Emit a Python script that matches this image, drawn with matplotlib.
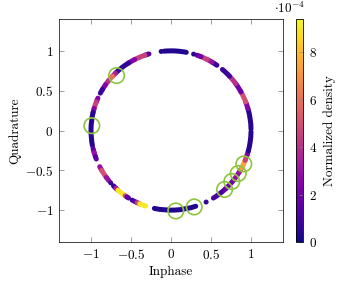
# -*- coding: utf-8 -*-
"""IQ constellation on the unit circle, coloured by normalized density."""

import matplotlib
matplotlib.use("Agg")
import matplotlib.pyplot as plt
from matplotlib.patches import Arc
from matplotlib.colors import Normalize
from matplotlib.cm import ScalarMappable

plt.rcParams['font.family'] = 'serif'
plt.rcParams['font.serif'] = ['cmr10', 'DejaVu Serif']
plt.rcParams['mathtext.fontset'] = 'cm'
plt.rcParams['axes.formatter.use_mathtext'] = True

# -------------------- data --------------------
# arc pieces of the received points: start angle, end angle (deg), density (x1e-4)
seg_start = [-58, -47, -38, -30, -28, -22, -18, -15, 1, 16, 21, 29, 36, 43,
             55, 59, 63, 68, 73.5, 79, 97,
             106, 109, 117, 122, 134, 137, 141, 145, 149,
             156, 159, 164, 167, 193, 196, 199, 207, 210, 216, 221,
             224, 226.5, 228.5, 235, 236.5, 241, 242.5, 245, 247, 258, 296]
seg_end = [-47, -38, -30, -28, -22, -18, -15, -1, 16, 21, 29, 36, 43, 50,
           59, 63, 68, 71, 73.6, 95, 97.1,
           109, 117, 122, 134, 137, 141, 145, 149, 152,
           159, 164, 167, 191, 196, 199, 201, 210, 216, 219, 221.1,
           226.5, 228.5, 235, 236.5, 238, 241.1, 245, 247, 251.5, 288, 296.1]
seg_density = [1.2, 2.0, 2.8, 4.0, 7.4, 4.5, 2.5, 0.4, 0.4, 2.5, 5.0, 2.0, 4.0, 0.8,
               0.8, 3.0, 4.5, 2.0, 0.5, 0.3, 0.3,
               1.5, 4.5, 2.5, 0.6, 3.5, 6.0, 4.0, 2.5, 0.8,
               2.5, 4.5, 2.5, 0.4, 1.5, 3.0, 1.5, 3.0, 5.0, 3.0, 1.0,
               0.8, 3.5, 9.0, 5.0, 1.5, 0.6, 1.5, 4.5, 9.0, 0.3, 0.6]

# highlighted symbols (green rings)
mark_i = [-0.68, -0.99, 0.06, 0.29, 0.67, 0.76, 0.84, 0.91]
mark_q = [0.69, 0.06, -1.01, -0.96, -0.74, -0.64, -0.54, -0.42]

ticks = [-1, -0.5, 0, 0.5, 1]
tick_labels = [r'$-1$', r'$-0.5$', r'$0$', r'$0.5$', r'$1$']
cb_ticks = [0, 2, 4, 6, 8]
vmax = 9.4  # colour scale top, x1e-4

# -------------------- plot --------------------
fig = plt.figure(figsize=(3.44, 2.84), dpi=100)
ax = fig.add_axes([59/344, 42/284, 224/344, 223/284])
cax = fig.add_axes([296/344, 42/284, 7/344, 223/284])

norm = Normalize(0, vmax * 1e-4)
cmap = plt.get_cmap('plasma')

for t1, t2, d in zip(seg_start, seg_end, seg_density):
    ax.add_patch(Arc((0, 0), 2, 2, theta1=t1, theta2=t2, lw=3.6,
                     color=cmap(norm(d * 1e-4)), capstyle='round'))

ax.scatter(mark_i, mark_q, s=125, facecolors='none', edgecolors='#8cc63f',
           linewidths=1.2, zorder=5)

ax.set_xlim(-1.4, 1.4)
ax.set_ylim(-1.4, 1.4)
ax.set_xticks(ticks)
ax.set_xticklabels(tick_labels)
ax.set_yticks(ticks)
ax.set_yticklabels(tick_labels)
ax.tick_params(direction='in', length=3.5, width=0.5, color='#777777',
               top=True, right=True, labelsize=9.5, pad=4)
for s in ax.spines.values():
    s.set_linewidth(0.6)
    s.set_color('#222222')
ax.set_xlabel("Inphase", fontsize=9.5, labelpad=3)
ax.set_ylabel("Quadrature", fontsize=9.5, labelpad=3)

sm = ScalarMappable(norm=norm, cmap=cmap)
cb = fig.colorbar(sm, cax=cax)
cb.set_ticks([t * 1e-4 for t in cb_ticks])
cb.set_ticklabels([rf'${t}$' for t in cb_ticks])
cax.tick_params(direction='in', length=3, width=0.5, color='#888888',
                labelsize=9.5, pad=4)
cb.outline.set_linewidth(0.6)
cb.set_label("Normalized density", fontsize=9.5, labelpad=5)
fig.text(290/344, 1 - 1/284, r'$\cdot 10^{-4}$', fontsize=9.5,
         ha='center', va='top')

fig.savefig("out.png", dpi=100)
